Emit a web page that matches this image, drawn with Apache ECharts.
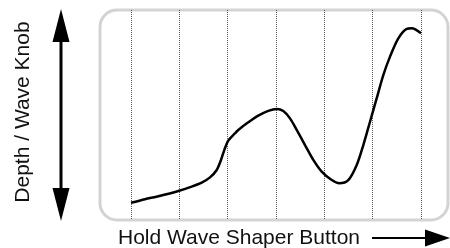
<!DOCTYPE html>
<html>
<head>
<meta charset="utf-8">
<script src="https://cdn.jsdelivr.net/npm/echarts@6/dist/echarts.min.js"></script>
<style>
html, body { margin: 0; padding: 0; background: #fff; }
#chart { width: 450px; height: 248px; }
</style>
</head>
<body>
<div id="chart"></div>
<script>
// curve: x in grid steps (0..6), y in % of box height
var curveX = [0, 0.29, 0.565, 0.98, 1.256, 1.463, 1.635, 1.773, 1.862, 1.93, 2.013, 2.152, 2.22, 2.427, 2.634, 2.841, 3.015, 3.151, 3.29, 3.428, 3.6, 3.772, 3.946, 4.138, 4.31, 4.496, 4.67, 4.807, 4.945, 5.084, 5.22, 5.359, 5.531, 5.704, 5.808, 6.0];
var curveY = [8.2, 9.9, 11.3, 13.8, 15.9, 17.8, 20.3, 23.8, 28.6, 33.3, 37.8, 41.3, 42.9, 46.5, 49.7, 52.0, 52.9, 51.9, 48.4, 42.9, 35.7, 28.6, 23, 19.3, 17.5, 19, 26.2, 35.7, 46.8, 58, 69, 77.8, 86.5, 91, 91.3, 88.9];
var xTitle = 'Hold Wave Shaper Button';
var yTitle = 'Depth / Wave Knob';

var points = [];
for (var i = 0; i < curveX.length; i++) {
    points.push([curveX[i], curveY[i]]);
}

var font = '"Liberation Sans", Arial, sans-serif';

var option = {
    animation: false,
    grid: { left: 131, right: 29, top: 10, bottom: 28 },
    xAxis: {
        type: 'value',
        min: 0,
        max: 6,
        interval: 1,
        axisLine: { show: false },
        axisTick: { show: false },
        axisLabel: { show: false },
        splitLine: {
            show: true,
            lineStyle: { color: '#555', width: 1, type: [1, 1] }
        }
    },
    yAxis: {
        type: 'value',
        min: 0,
        max: 100,
        axisLine: { show: false },
        axisTick: { show: false },
        axisLabel: { show: false },
        splitLine: { show: false }
    },
    graphic: [
        {
            type: 'rect',
            z: -1,
            shape: { x: 100, y: 10, width: 348, height: 210, r: 17 },
            style: { fill: 'none', stroke: '#d3d3d3', lineWidth: 3 }
        },
        // left double arrow
        {
            type: 'line',
            shape: { x1: 61, y1: 38, x2: 61, y2: 192 },
            style: { stroke: '#000', lineWidth: 3 }
        },
        {
            type: 'polygon',
            shape: { points: [[61, 9], [52.5, 42], [69.5, 42]] },
            style: { fill: '#000' }
        },
        {
            type: 'polygon',
            shape: { points: [[61, 221], [52.5, 188], [69.5, 188]] },
            style: { fill: '#000' }
        },
        {
            type: 'text',
            x: 23,
            y: 112,
            rotation: Math.PI / 2,
            style: {
                text: yTitle,
                fill: '#111',
                font: '21px ' + font,
                align: 'center',
                verticalAlign: 'middle'
            }
        },
        // bottom title + arrow
        {
            type: 'text',
            x: 118,
            y: 238,
            style: {
                text: xTitle,
                fill: '#111',
                font: '21px ' + font,
                align: 'left',
                verticalAlign: 'middle'
            }
        },
        {
            type: 'line',
            shape: { x1: 372, y1: 238, x2: 428, y2: 238 },
            style: { stroke: '#000', lineWidth: 2 }
        },
        {
            type: 'polygon',
            shape: { points: [[450, 238], [425, 229.5], [425, 246.5]] },
            style: { fill: '#000' }
        }
    ],
    series: [
        {
            type: 'line',
            data: points,
            smooth: 0.3,
            showSymbol: false,
            lineStyle: { color: '#000', width: 2.5 }
        }
    ]
};

var myChart = echarts.init(document.getElementById('chart'));
myChart.setOption(option);
</script>
</body>
</html>
